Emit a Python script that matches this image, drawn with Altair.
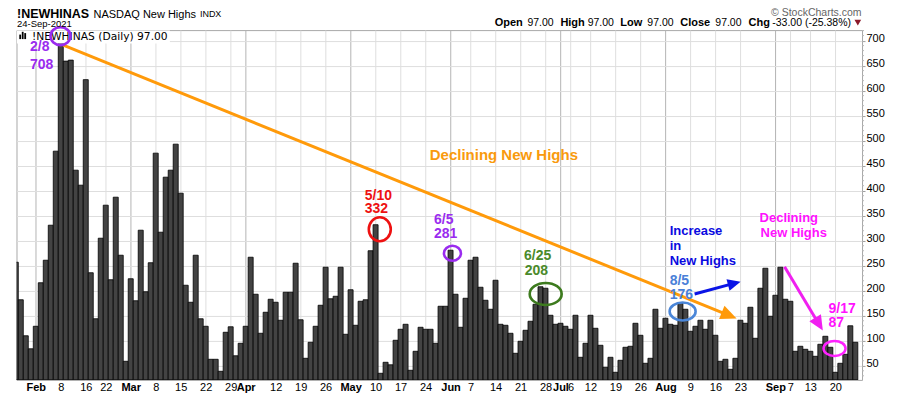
import math
import json
import altair as alt
import pandas as pd

# ---------------- data ----------------
values = [
    257, 182, 110, 84, 129, 216, 261, 331, 479, 708,
    659, 661, 441, 411, 622, 236, 144, 305, 371, 222,
    387, 271, 59, 224, 180, 321, 198, 256, 475, 317,
    427, 441, 493, 395, 211, 177, 271, 144, 129, 63,
    63, 39, 117, 128, 70, 95, 129, 267, 193, 115,
    157, 183, 177, 141, 197, 197, 255, 142, 65, 97,
    129, 171, 247, 184, 189, 247, 113, 202, 131, 179,
    182, 280, 332, 35, 57, 52, 101, 123, 133, 41,
    79, 127, 123, 123, 95, 169, 169, 281, 193, 127,
    185, 261, 267, 207, 181, 163, 221, 133, 131, 115,
    75, 99, 121, 139, 173, 208, 205, 151, 133, 135,
    129, 123, 151, 67, 95, 151, 125, 91, 47, 67,
    37, 61, 87, 89, 135, 111, 55, 65, 163, 125,
    145, 133, 131, 176, 163, 119, 129, 141, 123, 141,
    111, 59, 63, 43, 65, 141, 135, 167, 105, 205,
    245, 149, 191, 247, 183, 179, 79, 89, 83, 79,
    69, 93, 109, 87, 37, 55, 73, 130, 97,
]
holidays = ["2021-02-15", "2021-04-02", "2021-05-31", "2021-07-05", "2021-09-06"]
days = [d.strftime("%Y-%m-%d") for d in pd.bdate_range("2021-01-26", "2021-09-24")]
days = [d for d in days if d not in holidays]
assert len(days) == len(values), (len(days), len(values))
idx_of = {d: i + 1 for i, d in enumerate(days)}

tick_dates = [
    "2021-02-01", "2021-02-08", "2021-02-16", "2021-02-22",
    "2021-03-01", "2021-03-08", "2021-03-15", "2021-03-22", "2021-03-29",
    "2021-04-01", "2021-04-12", "2021-04-19", "2021-04-26",
    "2021-05-03", "2021-05-10", "2021-05-17", "2021-05-24",
    "2021-06-01", "2021-06-07", "2021-06-14", "2021-06-21", "2021-06-28",
    "2021-07-01", "2021-07-06", "2021-07-12", "2021-07-19", "2021-07-26",
    "2021-08-02", "2021-08-09", "2021-08-16", "2021-08-23",
    "2021-09-01", "2021-09-07", "2021-09-13", "2021-09-20",
]
tick_labels = [
    "Feb", "8", "16", "22",
    "Mar", "8", "15", "22", "29",
    "Apr", "12", "19", "26",
    "May", "10", "17", "24",
    "Jun", "7", "14", "21", "28",
    "Jul", "6", "12", "19", "26",
    "Aug", "9", "16", "23",
    "Sep", "7", "13", "20",
]
y_ticks = list(range(50, 701, 50))

# annotations (anchored in data units: bar index, value)
ann_text = ["2/8", "708", "Declining New Highs", "5/10", "332", "6/5", "281",
            "6/25", "208", "Increase", "in", "New Highs", "8/5", "176",
            "Declining", "New Highs", "9/17", "87"]
ann_k = [3.84, 3.84, 83.84, 70.84, 70.84, 84.7, 84.7,
         102.7, 102.84, 131.84, 131.84, 131.84, 131.84, 131.84,
         149.84, 150.04, 163.64, 163.64]
ann_v = [679.0, 643.1, 461.3, 381.4, 354.8, 333.4, 304.9,
         261.5, 231.6, 310.9, 281.5, 252.1, 211.6, 183.6,
         338.0, 308.1, 155.0, 128.3]
ann_color = ["#9A2BEF", "#9A2BEF", "#F99A0D", "#EE1111", "#EE1111", "#9A2BEF", "#9A2BEF",
             "#4A8A2A", "#4A8A2A", "#0A0AE0", "#0A0AE0", "#0A0AE0", "#4A80D8", "#4A80D8",
             "#FF11FF", "#FF11FF", "#FF11FF", "#FF11FF"]
ann_size = [14, 14, 15, 14, 14, 14, 14, 14, 14, 13, 13, 13, 14, 14, 13, 13, 14, 14]

circ_k = [9.94, 73.84, 88.38, 107.04, 134.44, 164.84]
circ_v = [709, 322.9, 274.9, 193.6, 158.6, 84.7]
circ_w = [20, 22, 17, 32, 26, 22]
circ_h = [18, 24, 15, 22, 18, 15]
circ_color = ["#9A2BEF", "#EE1111", "#9A2BEF", "#3D7B1E", "#4A86D8", "#FF22FF"]

arrow_k0 = [10.5, 136.84, 154.84]
arrow_v0 = [691.0, 193.6, 248.1]
arrow_k1 = [145.24, 146.04, 162.5]
arrow_v1 = [144.7, 218.2, 120.3]
arrow_color = ["#FF9A0A", "#0A14E6", "#F020F0"]
arrow_head = [8.0, 6.5, 7.5]

# ---------------- geometry ----------------
W, H = 846, 350
X_DOM = [1.14, 170.34]
Y_DOM = [21.8, 721.0]
PX = W / (X_DOM[1] - X_DOM[0])
PY = H / (Y_DOM[1] - Y_DOM[0])
xs = alt.Scale(domain=X_DOM, nice=False, zero=False)
ys = alt.Scale(domain=Y_DOM, nice=False, zero=False)
FONT = "Liberation Sans"

tick_idx = [idx_of[d] for d in tick_dates]
month_idx = [i for i, l in zip(tick_idx, tick_labels) if not l.isdigit()]
month_test = f"indexof({json.dumps(month_idx)}, datum.value) >= 0"

xaxis = alt.Axis(
    values=tick_idx, tickCount=500,
    labelExpr=f"{json.dumps(tick_labels)}[indexof({json.dumps(tick_idx)}, datum.value)]",
    labelOverlap=False, labelFlush=False, grid=True,
    gridColor={"condition": {"test": month_test, "value": "#b4b4b4"}, "value": "#dedede"},
    labelFontWeight={"condition": {"test": month_test, "value": "bold"}, "value": "normal"},
    domain=False, ticks=False, labelPadding=2, labelFont=FONT, labelFontSize=11,
    labelColor="#000000", title=None,
)
yaxis = alt.Axis(
    orient="right", values=y_ticks, tickCount=500, labelOverlap=False,
    grid=True, gridColor="#dedede", domain=False,
    ticks=True, tickSize=3, tickColor="#a0a0a0", labelPadding=1, labelFont=FONT,
    labelFontSize=11, labelColor="#000000", labelOffset=-2, title=None,
)

bars_df = pd.DataFrame({"k": list(range(1, len(values) + 1)), "v": values, "date": days})
bars_df["k0"] = bars_df["k"] - 0.5
bars_df["k1"] = bars_df["k"] + 0.5

bars = alt.Chart(bars_df).mark_bar(
    clip=True, fill="#434343", stroke="#000000", strokeWidth=0.8
).encode(
    x=alt.X("k0:Q", scale=xs, axis=xaxis),
    x2="k1:Q",
    y=alt.Y("v:Q", scale=ys, axis=yaxis),
    y2=alt.datum(Y_DOM[0]),
)

minor_df = pd.DataFrame({"m": [v for v in range(30, 721, 10) if v % 50]})
minor = alt.Chart(minor_df).mark_rule(color="#b8b8b8").encode(
    y=alt.Y("m:Q", scale=ys), x=alt.value(W), x2=alt.value(W + 2)
)

one = pd.DataFrame({"a": [0]})
label_box = alt.Chart(one).mark_rect(fill="white").encode(
    x=alt.value(0.5), x2=alt.value(153.5), y=alt.value(0.5), y2=alt.value(13.5)
)
icon_df = pd.DataFrame({"x0": [2.8, 5.3, 7.8], "x1": [4.6, 7.1, 9.6], "y0": [4.5, 1.7, 3.0]})
icon = alt.Chart(icon_df).mark_rect(color="#000000").encode(
    x=alt.X("x0:Q", scale=None), x2="x1:Q", y=alt.Y("y0:Q", scale=None), y2=alt.value(9)
)
label_txt = alt.Chart(one).mark_text(
    text="!NEWHINAS (Daily) 97.00", align="left", baseline="middle",
    font="DejaVu Sans", fontSize=10.7, color="#000000"
).encode(x=alt.value(15.5), y=alt.value(7))

# arrows
line_rows, head_rows = [], []
for i in range(len(arrow_k0)):
    dx = (arrow_k1[i] - arrow_k0[i]) * PX
    dy = -(arrow_v1[i] - arrow_v0[i]) * PY
    L = math.hypot(dx, dy)
    back = arrow_head[i] * 1.2
    ke = arrow_k1[i] - (dx / L) * back / PX
    ve = arrow_v1[i] + (dy / L) * back / PY
    line_rows.append({"id": i, "o": 0, "k": arrow_k0[i], "v": arrow_v0[i], "c": arrow_color[i]})
    line_rows.append({"id": i, "o": 1, "k": ke, "v": ve, "c": arrow_color[i]})
    ang = math.degrees(math.atan2(dy, dx)) % 360
    head_rows.append({"k": arrow_k1[i], "v": arrow_v1[i], "c": arrow_color[i],
                      "ang": ang, "size": (2 * arrow_head[i]) ** 2})
lines = alt.Chart(pd.DataFrame(line_rows)).mark_line(strokeWidth=3, strokeCap="butt").encode(
    x=alt.X("k:Q", scale=xs), y=alt.Y("v:Q", scale=ys),
    detail="id:N", order="o:Q", color=alt.Color("c:N", scale=None),
)
heads = alt.Chart(pd.DataFrame(head_rows)).mark_point(
    filled=True, opacity=1, shape="M 0 0 L -2 -0.9 L -2 0.9 Z"
).encode(
    x=alt.X("k:Q", scale=xs), y=alt.Y("v:Q", scale=ys),
    color=alt.Color("c:N", scale=None), angle=alt.Angle("ang:Q", scale=None),
    size=alt.Size("size:Q", scale=None),
)

circ_df = pd.DataFrame({"k": circ_k, "v": circ_v, "c": circ_color,
                        "size": [w * w for w in circ_w],
                        "path": [f"M -1 0 A 1 {h / w:.3f} 0 1 0 1 0 A 1 {h / w:.3f} 0 1 0 -1 0"
                                 for w, h in zip(circ_w, circ_h)]})
circles = alt.Chart(circ_df).mark_point(filled=False, opacity=1, strokeWidth=2.6).encode(
    x=alt.X("k:Q", scale=xs), y=alt.Y("v:Q", scale=ys),
    color=alt.Color("c:N", scale=None), shape=alt.Shape("path:N", scale=None),
    size=alt.Size("size:Q", scale=None),
)

ann_df = pd.DataFrame({"t": ann_text, "k": ann_k, "v": ann_v, "c": ann_color, "s": ann_size})
texts = alt.Chart(ann_df).mark_text(
    align="left", baseline="alphabetic", font=FONT, fontWeight="bold"
).encode(
    x=alt.X("k:Q", scale=xs), y=alt.Y("v:Q", scale=ys),
    text="t:N", color=alt.Color("c:N", scale=None), size=alt.Size("s:Q", scale=None),
)

# header texts (pixel positions relative to plot origin)
quote_labels = ["Open", "High", "Low", "Close", "Chg"]
quote_values = ["97.00", "97.00", "97.00", "97.00", "-33.00 (-25.38%)"]
quote_lx = [478.5, 544.2, 604.2, 664.2, 732.5]
quote_vx = [511.2, 571.5, 631.2, 699.2, 756.2]
header = [
    ("!NEWHINAS", 0.5, -12.3, 12.5, "bold", "#000000", "left"),
    ("NASDAQ New Highs", 77.0, -12.3, 11, "normal", "#000000", "left"),
    ("INDX", 183.5, -12.8, 9, "normal", "#000000", "left"),
    ("24-Sep-2021", 0.5, -3.3, 9.5, "normal", "#000000", "left"),
    ("\u00a9 StockCharts.com", 845.5, -14.2, 10.5, "normal", "#666666", "right"),
]
for lab, lx, val, vx in zip(quote_labels, quote_lx, quote_values, quote_vx):
    header.append((lab, lx, -4, 11, "bold", "#000000", "left"))
    header.append((val, vx, -4, 10.5, "normal", "#000000", "left"))
head_layers = []
for t, x, y, s, w, c, a in header:
    head_layers.append(alt.Chart(one).mark_text(
        text=t, align=a, baseline="alphabetic", font=FONT, fontSize=s, fontWeight=w, color=c
    ).encode(x=alt.value(x), y=alt.value(y)))
tri = alt.Chart(one).mark_point(shape="triangle-down", filled=True, opacity=1,
                                color="#8B1A2B", size=45).encode(
    x=alt.value(841.8), y=alt.value(-7.5))

chart = alt.layer(
    bars, minor, label_box, icon, label_txt, lines, heads, circles, texts, tri, *head_layers
).properties(
    width=W, height=H,
    padding={"left": 8.5, "top": 22, "right": 30, "bottom": 16},
    autosize=alt.AutoSizeParams(type="none"),
    background="white",
).configure_view(stroke="#a8a8a8", strokeWidth=1)

chart.save("out.html", embed_options={"renderer": "svg", "actions": False})
